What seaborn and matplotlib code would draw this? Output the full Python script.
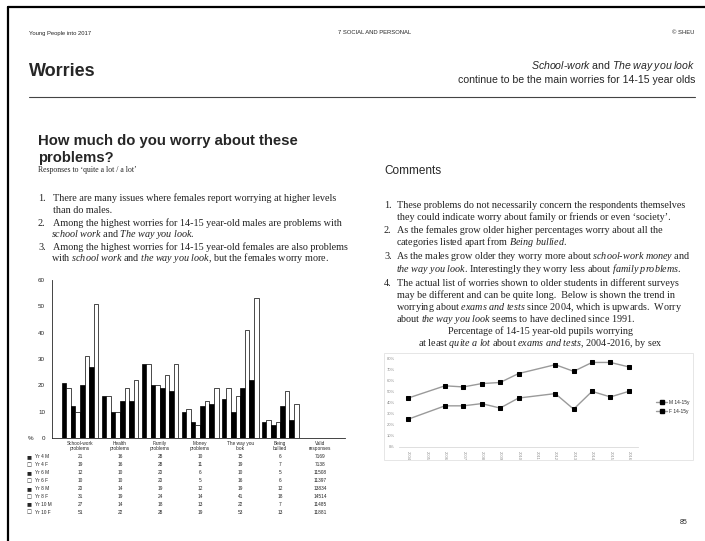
import matplotlib
matplotlib.use("Agg")
import matplotlib.pyplot as plt
import matplotlib.transforms as mtransforms
from matplotlib.lines import Line2D
from matplotlib.patches import Rectangle
import numpy as np
import pandas as pd
import seaborn as sns

# %% data
problems = ['School-work\nproblems', 'Health\nproblems', 'Family\nproblems',
            'Money\nproblems', 'The way you\nlook', 'Being\nbullied']
groups = ['Yr 4 M', 'Yr 4 F', 'Yr 6 M', 'Yr 6 F', 'Yr 8 M', 'Yr 8 F', 'Yr 10 M', 'Yr 10 F']
yr4_m = [21, 16, 28, 10, 15, 6]
yr4_f = [19, 16, 28, 11, 19, 7]
yr6_m = [12, 10, 20, 6, 10, 5]
yr6_f = [10, 10, 20, 5, 16, 6]
yr8_m = [20, 14, 19, 12, 19, 12]
yr8_f = [31, 19, 24, 14, 41, 18]
yr10_m = [27, 14, 18, 13, 22, 7]
yr10_f = [51, 22, 28, 19, 53, 13]
valid = [7169, 7138, 11508, 11397, 13834, 14514, 11485, 11881]

years = list(range(2004, 2017))
m_exams = [25, None, 37, 37, 39, 35, 44, None, 48, 34, 50, 45, 50]
f_exams = [44, None, 55, 54, 57, 58, 66, None, 74, 68, 76, 76, 72]

W, H = 705, 541
SANS = 'Liberation Sans'
SERIF = 'Liberation Serif'

sns.set_style('white')
# italics inside running text go through mathtext: \mathit = serif italic, \mathsf = sans italic
plt.rcParams['mathtext.fontset'] = 'custom'
plt.rcParams['mathtext.it'] = 'Liberation Serif:italic'
plt.rcParams['mathtext.rm'] = 'Liberation Serif'
plt.rcParams['mathtext.sf'] = 'Liberation Sans:italic'

fig = plt.figure(figsize=(W / 100, H / 100), dpi=100)


def px(x, y):
    return x / W, 1 - y / H


def it(s):
    return r'$\mathit{' + s.replace(' ', r'\ ') + '}$'


def body(x, y, s, **kw):
    # y is the visual middle of the line; baseline sits ~2.5px lower.
    # mathtext lines come out a touch to the right, so pull them back
    if '$' in s and kw.get('ha', 'left') == 'left':
        x -= 1.5
    fig.text(*px(x, y + 2.5), s, fontsize=7.3, family=SERIF, va='baseline', color='#222222', **kw)


def numbered(x_num, x_txt, y0, items, dy, gap, item_dy=None):
    item_dy = item_dy or {}
    y = y0
    for i, lines in enumerate(items):
        body(x_num, y, f'{i + 1}.')
        step = item_dy.get(i, dy)
        for k, line in enumerate(lines):
            body(x_txt, y, line)
            y += step if k < len(lines) - 1 else dy
        y += gap


# %% page frame and header
fig.add_artist(Line2D([8 / W, 1], [1 - 7 / H] * 2, transform=fig.transFigure, color='black', lw=1.6))
fig.add_artist(Line2D([8 / W] * 2, [0, 1 - 7 / H], transform=fig.transFigure, color='black', lw=1.6))
fig.add_artist(Line2D([29 / W, 695 / W], [1 - 97 / H] * 2, transform=fig.transFigure, color='#444444', lw=0.8))

fig.text(*px(29, 33), 'Young People into 2017', fontsize=4.2, family=SANS, va='center')
fig.text(*px(375, 33), '7 SOCIAL AND PERSONAL', fontsize=4.2, family=SANS, va='center', ha='center')
fig.text(*px(695, 33), '© SHEU', fontsize=4.2, family=SANS, va='center', ha='right')
fig.text(*px(29, 72), 'Worries', fontsize=13, family=SANS, weight='bold', va='center')
fig.text(*px(695, 69), r'$\mathsf{School}$-$\mathsf{work}$ and $\mathsf{The\ way\ you\ look}$',
         fontsize=7.6, family=SANS, va='baseline', ha='right')
fig.text(*px(695, 83), 'continue to be the main worries for 14-15 year olds',
         fontsize=7.6, family=SANS, va='baseline', ha='right')

fig.text(*px(38, 141), 'How much do you worry about these', fontsize=10.7, family=SANS, weight='bold', va='center')
fig.text(*px(38, 158), 'problems?', fontsize=10.7, family=SANS, weight='bold', va='center')
fig.text(*px(38, 170), 'Responses to \u2018quite a lot / a lot\u2019', fontsize=5.6, family=SERIF, va='center')

left_items = [
    ['There are many issues where females report worrying at higher levels',
     'than do males.'],
    ['Among the highest worries for 14-15 year-old males are problems with',
     it('school work') + ' and ' + it('The way you look') + '.'],
    ['Among the highest worries for 14-15 year-old females are also problems',
     'with ' + it('school work') + ' and ' + it('the way you look') + ', but the females worry more.'],
]
numbered(38, 53, 199, left_items, 11.5, 1)

fig.text(*px(384, 171), 'Comments', fontsize=8.5, family=SANS, va='center')
right_items = [
    ['These problems do not necessarily concern the respondents themselves',
     'they could indicate worry about family or friends or even \u2018society\u2019.'],
    ['As the females grow older higher percentages worry about all the',
     'categories listed apart from ' + it('Being bullied') + '.'],
    ['As the males grow older they worry more about ' + it('school') + '-' + it('work money') + ' and',
     it('the way you look') + '. Interestingly they worry less about ' + it('family problems') + '.'],
    ['The actual list of worries shown to older students in different surveys',
     'may be different and can be quite long.  Below is shown the trend in',
     'worrying about ' + it('exams and tests') + ' since 2004, which is upwards.  Worry',
     'about ' + it('the way you look') + ' seems to have declined since 1991.'],
]
numbered(384, 397, 205, right_items, 12.2, 1.3, item_dy={2: 13.5})

body(540, 332, 'Percentage of 14-15 year-old pupils worrying', ha='center')
body(540, 344, 'at least ' + it('quite a lot') + ' about ' + it('exams and tests') + ', 2004-2016, by sex',
     ha='center')

fig.text(*px(688, 522), '85', fontsize=5, family=SANS, va='center', ha='right')

# %% bar chart
ax = fig.add_axes([52 / W, 1 - 438 / H, (345 - 52) / W, (438 - 280) / H])
series = [yr4_m, yr4_f, yr6_m, yr6_f, yr8_m, yr8_f, yr10_m, yr10_f]
df = pd.DataFrame([(p, g, v) for g, vals in zip(groups, series) for p, v in zip(problems, vals)],
                  columns=['problem', 'group', 'pct'])
sns.barplot(data=df, x='problem', y='pct', hue='group', order=problems, hue_order=groups,
            palette=['black', 'white'] * 4, saturation=1, edgecolor='black', linewidth=0.5,
            width=0.92, legend=False, ax=ax)
ax.set_xlim(-0.7, 6.62)
ax.set_ylim(0, 60)
ax.set_yticks(range(0, 61, 10))
ax.set_xticks(range(7))
ax.set_xticklabels(problems + ['Valid\nresponses'], fontsize=3.4, family=SANS, linespacing=1.1)
ax.set_xticks(np.arange(-0.5, 6.6, 1), minor=True)
ax.tick_params(axis='x', which='major', length=0, pad=2)
ax.tick_params(axis='x', which='minor', length=2, width=0.5, direction='out')
ax.tick_params(axis='y', length=2, width=0.5, labelsize=4.5, pad=3)
for lab in ax.get_yticklabels():
    lab.set_family(SANS)
ax.set_xlabel('')
ax.set_ylabel('')
for s in ['top', 'right']:
    ax.spines[s].set_visible(False)
for s in ['left', 'bottom']:
    ax.spines[s].set_linewidth(0.6)
fig.text(*px(31, 438), '%', fontsize=4.5, family=SANS, va='center', ha='center')

# table under the bars
blend = mtransforms.blended_transform_factory(ax.transData, fig.transFigure)
row_y = [457, 465, 473, 481, 489, 497, 504, 512]
for i, (g, vals) in enumerate(zip(groups, series)):
    y = 1 - row_y[i] / H
    fig.text(29 / W, y, '■' if g.endswith('M') else '□', fontsize=3.8, family='DejaVu Sans',
             va='center', ha='center')
    fig.text(35 / W, y, g, fontsize=3.4, family=SANS, va='center', color='#222222')
    for j, v in enumerate(vals + [valid[i]]):
        ax.text(j, y, str(v), transform=blend, fontsize=3.4, family=SANS,
                va='center', ha='center', color='#222222')

# %% line chart
fig.add_artist(Rectangle((384 / W, 1 - 460 / H), (693 - 384) / W, (460 - 353) / H,
                         transform=fig.transFigure, fill=False, edgecolor='#e2e2e2', lw=0.6))
lx = fig.add_axes([399 / W, 1 - 447 / H, (638 - 399) / W, (447 - 358) / H])
ldf = pd.DataFrame({'pos': list(range(len(years))) * 2,
                    'pct': m_exams + f_exams,
                    'sex': ['M 14-15y'] * len(years) + ['F 14-15y'] * len(years)}).dropna()
sns.lineplot(data=ldf, x='pos', y='pct', hue='sex', palette=['#9a9a9a', '#9a9a9a'],
             marker='s', markersize=3, mfc='black', mec='black', lw=1.0, legend=False, ax=lx)
lx.set_xlim(-0.5, 12.5)
lx.set_ylim(0, 80)
lx.set_yticks(range(0, 81, 10))
lx.set_yticklabels([f'{v}%' for v in range(0, 81, 10)], fontsize=3, color='#8a8a8a', family=SANS)
lx.set_xticks(range(len(years)))
lx.set_xticklabels([str(y) for y in years], rotation=270, fontsize=3, color='#8a8a8a', family=SANS)
lx.tick_params(length=0, pad=3)
lx.set_xlabel('')
lx.set_ylabel('')
for s in ['top', 'right', 'left']:
    lx.spines[s].set_visible(False)
lx.spines['bottom'].set_color('#d9d9d9')
lx.spines['bottom'].set_linewidth(0.6)
lx.patch.set_alpha(0)

handles = [Line2D([], [], color='#9a9a9a', lw=1.0, marker='s', ms=3, mfc='black', mec='black'),
           Line2D([], [], color='#9a9a9a', lw=1.0, marker='s', ms=2.5, mfc='black', mec='black')]
fig.legend(handles, ['M 14-15y', 'F 14-15y'], loc='center left', bbox_to_anchor=px(652, 407),
           frameon=False, prop={'family': SANS, 'size': 3.5}, handlelength=2.2,
           handletextpad=0.3, labelspacing=0.9)

fig.savefig('out.png', dpi=100)
